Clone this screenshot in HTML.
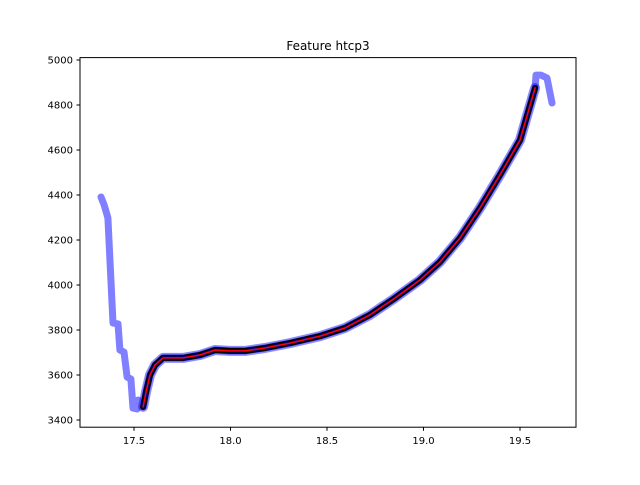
<!DOCTYPE html>
<html><head><meta charset="utf-8"><style>
body{margin:0;background:#fff;font-family:"Liberation Sans","DejaVu Sans",sans-serif;}
svg text{font-family:"DejaVu Sans","Liberation Sans",sans-serif;font-size:10px;fill:#000}
</style></head><body>
<svg id="chart" width="640" height="480" xmlns="http://www.w3.org/2000/svg">
<rect width="640" height="480" fill="#fff"/>
<text x="328" y="50" text-anchor="middle" style="font-size:12px">Feature htcp3</text>
<g id="marks"></g>
<rect x="80" y="57.6" width="496" height="369.6" fill="none" stroke="#000" stroke-width="1"/>
<g id="axes"></g>
</svg>
<script>
const rawX=[17.329,17.345,17.365,17.391,17.417,17.427,17.448,17.464,17.484,17.495,17.516,17.521];
const rawY=[4391,4356,4298,3831,3827,3711,3702,3591,3582,3453,3449,3489];
const fitX=[17.547,17.562,17.583,17.609,17.650,17.754,17.842,17.920,17.997,18.075,18.179,18.308,18.464,18.593,18.723,18.852,18.982,19.085,19.189,19.293,19.396,19.500,19.578];
const fitY=[3458,3524,3600,3644,3676,3676,3689,3711,3707,3707,3720,3742,3773,3809,3867,3942,4022,4102,4209,4342,4489,4644,4876];
const tailX=[19.583,19.609,19.640,19.666];
const tailY=[4933,4933,4920,4809];
const xTicks=[17.5,18.0,18.5,19.0,19.5];
const xTickLabels=["17.5","18.0","18.5","19.0","19.5"];
const yTicks=[3400,3600,3800,4000,4200,4400,4600,4800,5000];
const yTickLabels=["3400","3600","3800","4000","4200","4400","4600","4800","5000"];
const X=v=>134+(v-17.5)*193;
const Y=v=>420-(v-3400)*0.225;
const NS="http://www.w3.org/2000/svg";
const marks=document.getElementById('marks'),axes=document.getElementById('axes');
function pts(xs,ys){return xs.map((x,i)=>X(x).toFixed(1)+','+Y(ys[i]).toFixed(1)).join(' ');}
function line(xs,ys,color,w,op,name){
 const p=document.createElementNS(NS,'polyline');
 p.setAttribute('points',pts(xs,ys));p.setAttribute('fill','none');p.setAttribute('stroke',color);
 p.setAttribute('stroke-width',w);p.setAttribute('stroke-opacity',op);p.setAttribute('stroke-linejoin','round');p.setAttribute('stroke-linecap','round');
 
 
 marks.appendChild(p);}
line(rawX.concat(fitX,tailX),rawY.concat(fitY,tailY),'#0000ff',7,0.5,'raw-series-line');
line(fitX,fitY,'#0000ff',10,0.45,'raw-series-halo');
line(fitX,fitY,'#000',6,1,'black-series-line');
line(fitX,fitY,'#00008b',3,1,'navy-series-line');
line(fitX,fitY,'#ff0000',1.5,1,'red-fit-line');
xTicks.forEach((t,i)=>{
 const l=document.createElementNS(NS,'line');l.setAttribute('x1',X(t));l.setAttribute('x2',X(t));l.setAttribute('y1',427.2);l.setAttribute('y2',430.7);l.setAttribute('stroke','#000');
 
 
 axes.appendChild(l);
 const tx=document.createElementNS(NS,'text');tx.setAttribute('x',X(t));tx.setAttribute('y',444);tx.setAttribute('text-anchor','middle');tx.textContent=xTickLabels[i];
 
 
 axes.appendChild(tx);});
yTicks.forEach((t,i)=>{
 const l=document.createElementNS(NS,'line');l.setAttribute('x1',76.5);l.setAttribute('x2',80);l.setAttribute('y1',Y(t));l.setAttribute('y2',Y(t));l.setAttribute('stroke','#000');
 
 
 axes.appendChild(l);
 const tx=document.createElementNS(NS,'text');tx.setAttribute('x',73);tx.setAttribute('y',Y(t)+3.6);tx.setAttribute('text-anchor','end');tx.textContent=yTickLabels[i];
 
 
 axes.appendChild(tx);});
</script>
</body></html>
